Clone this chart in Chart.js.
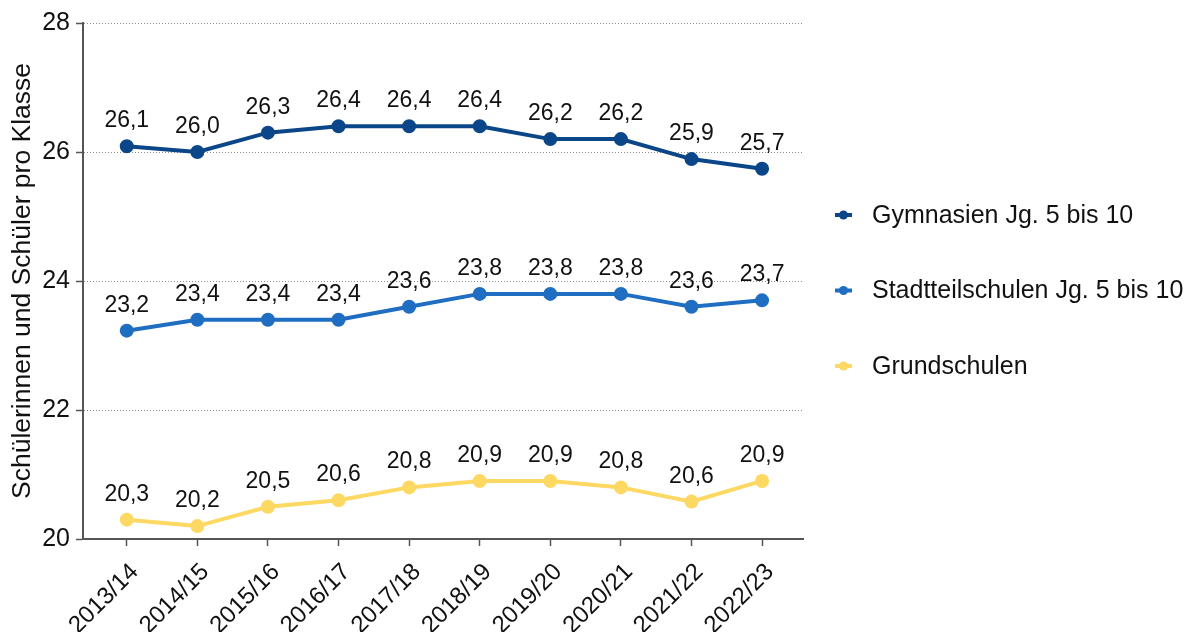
<!DOCTYPE html>
<html lang="de">
<head>
<meta charset="utf-8">
<title>Schülerinnen und Schüler pro Klasse</title>
<script src="https://cdn.jsdelivr.net/npm/chart.js@4/dist/chart.umd.min.js"></script>
<style>
    html, body { margin: 0; padding: 0; background: #ffffff; }
    #wrap { width: 1186px; height: 632px; position: relative; }
</style>
</head>
<body>
<div id="wrap"><canvas id="klassenChart"></canvas></div>
<script>
    const schoolYears = ['2013/14', '2014/15', '2015/16', '2016/17', '2017/18', '2018/19', '2019/20', '2020/21', '2021/22', '2022/23'];
    const gymnasien = [26.09, 26.0, 26.3, 26.4, 26.4, 26.4, 26.2, 26.2, 25.89, 25.74];
    const stadtteilschulen = [23.23, 23.4, 23.4, 23.4, 23.6, 23.8, 23.8, 23.8, 23.6, 23.7];
    const grundschulen = [20.3, 20.2, 20.5, 20.6, 20.8, 20.9, 20.9, 20.8, 20.58, 20.9];
    const yTicks = [20, 22, 24, 26, 28];

    const fontFamily = '"Liberation Sans", Arial, sans-serif';
    const axisColor = '#555555';

    function formatValue(v) {
        return v.toFixed(1).replace('.', ',');
    }

    // index based points so the x scale can keep the wider end margins of the original
    function toPoints(values) {
        return values.map(function(v, i) { return { x: i, y: v }; });
    }

    const valueLabels = {
        id: 'valueLabels',
        afterDatasetsDraw(chart) {
            const ctx = chart.ctx;
            ctx.save();
            ctx.font = '23px ' + fontFamily;
            ctx.fillStyle = '#111111';
            ctx.textAlign = 'center';
            ctx.textBaseline = 'alphabetic';
            chart.data.datasets.forEach(function(ds, i) {
                const meta = chart.getDatasetMeta(i);
                meta.data.forEach(function(pt, j) {
                    ctx.fillText(formatValue(ds.data[j].y), pt.x, pt.y - 19);
                });
            });
            ctx.restore();
        }
    };

    const sideLegend = {
        id: 'sideLegend',
        afterDraw(chart) {
            const ctx = chart.ctx;
            const area = chart.chartArea;
            const x0 = area.right + 32;
            const step = 75.5;
            const y0 = 215;
            ctx.save();
            ctx.font = '25px ' + fontFamily;
            ctx.textAlign = 'left';
            ctx.textBaseline = 'middle';
            chart.data.datasets.forEach(function(ds, i) {
                const y = y0 + i * step;
                ctx.strokeStyle = ds.borderColor;
                ctx.fillStyle = ds.borderColor;
                ctx.lineWidth = 4;
                ctx.beginPath();
                ctx.moveTo(x0, y);
                ctx.lineTo(x0 + 17, y);
                ctx.stroke();
                ctx.beginPath();
                ctx.arc(x0 + 8.5, y, 4.5, 0, Math.PI * 2);
                ctx.fill();
                ctx.fillStyle = '#111111';
                ctx.fillText(ds.label, x0 + 37, y + 1);
            });
            ctx.restore();
        }
    };

    function makeSeries(label, values, color) {
        return {
            label: label,
            data: toPoints(values),
            borderColor: color,
            backgroundColor: color,
            pointBackgroundColor: color,
            pointBorderColor: color,
            borderWidth: 4,
            pointRadius: 5,
            tension: 0
        };
    }

    new Chart(document.getElementById('klassenChart'), {
        type: 'line',
        data: {
            datasets: [
                makeSeries('Gymnasien Jg. 5 bis 10', gymnasien, '#0b4689'),
                makeSeries('Stadtteilschulen Jg. 5 bis 10', stadtteilschulen, '#1f6ec2'),
                makeSeries('Grundschulen', grundschulen, '#fdd862')
            ]
        },
        options: {
            responsive: true,
            maintainAspectRatio: false,
            animation: false,
            layout: { padding: { top: 23, right: 383, left: 0, bottom: 0 } },
            plugins: {
                legend: { display: false },
                tooltip: { enabled: false }
            },
            scales: {
                x: {
                    type: 'linear',
                    min: -0.62,
                    max: schoolYears.length - 1 + 0.58,
                    afterBuildTicks(scale) {
                        scale.ticks = schoolYears.map(function(s, i) { return { value: i }; });
                    },
                    border: { display: true, color: axisColor, width: 2 },
                    grid: { drawOnChartArea: false, drawTicks: true, tickLength: 7, tickColor: axisColor, tickWidth: 1.5 },
                    ticks: {
                        color: '#111111',
                        font: { family: fontFamily, size: 24 },
                        minRotation: 45,
                        maxRotation: 45,
                        padding: 12,
                        labelOffset: 8,
                        autoSkip: false,
                        callback(value) { return schoolYears[value]; }
                    },
                    afterFit(scale) { scale.height = 93; }
                },
                y: {
                    min: 20,
                    max: 28,
                    afterBuildTicks(scale) {
                        scale.ticks = yTicks.map(function(v) { return { value: v }; });
                    },
                    border: { display: true, color: axisColor, width: 2, dash: [1, 2] },
                    grid: {
                        color(ctx) { return ctx.tick && ctx.tick.value === 20 ? 'rgba(0,0,0,0)' : '#8c8c8c'; },
                        lineWidth: 1,
                        drawTicks: true,
                        tickLength: 7,
                        tickColor: axisColor,
                        tickBorderDash: [],
                        tickWidth: 1.5
                    },
                    ticks: {
                        color: '#111111',
                        font: { family: fontFamily, size: 25 },
                        padding: 6
                    },
                    title: {
                        display: true,
                        text: 'Schülerinnen und Schüler pro Klasse',
                        color: '#111111',
                        font: { family: fontFamily, size: 26.5 },
                        padding: { top: 7, bottom: 0 }
                    },
                    afterFit(scale) { scale.width = 83; }
                }
            }
        },
        plugins: [valueLabels, sideLegend]
    });
</script>
</body>
</html>
